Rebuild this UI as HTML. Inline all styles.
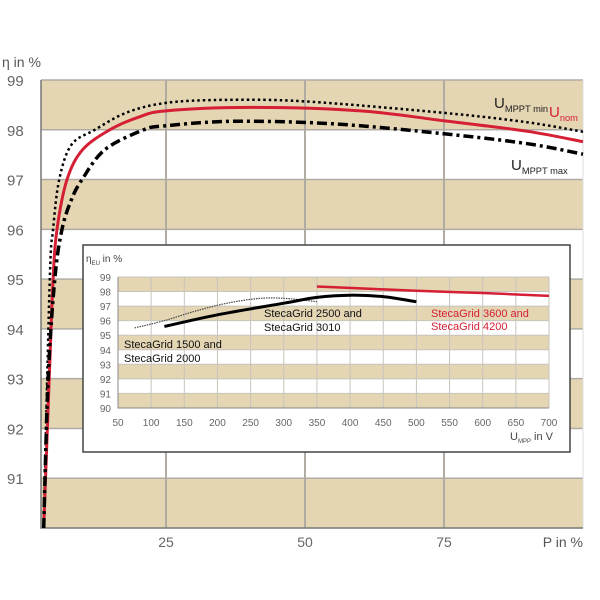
<!DOCTYPE html>
<html><head><meta charset="utf-8"><style>
html,body{margin:0;padding:0;background:#fff;width:600px;height:600px;overflow:hidden}
svg{display:block;font-family:"Liberation Sans",sans-serif}
</style></head><body>
<svg id="c" width="600" height="600" viewBox="0 0 600 600" xmlns="http://www.w3.org/2000/svg">
<g id="main"></g><g id="inset"></g>
</svg>
<script>
// Main chart data
const mainYTicks = [91,92,93,94,95,96,97,98,99];
const mainXTicks = [25,50,75];
const pMin = [3,4.1,4.7,5.8,8,12.2,18,25,35,50,75,90,100];
const etaMin = [90,95,96,97,97.7,98,98.35,98.54,98.6,98.57,98.34,98.15,97.96];
const pNom = [3,4,4.7,5.4,7.2,10,14.9,20,25,40,60,75,90,100];
const etaNom = [90,93,95,96,97,97.6,98,98.25,98.38,98.45,98.38,98.18,97.97,97.76];
const pMax = [3,3.8,5,6.3,8,9.9,14,21,25,37,55,75,90,100];
const etaMax = [90,93,95,96,96.6,97,97.6,98,98.08,98.17,98.12,97.92,97.72,97.51];
// Inset data
const insetYTicks = [90,91,92,93,94,95,96,97,98,99];
const insetXTicks = [50,100,150,200,250,300,350,400,450,500,550,600,650,700];
const v1500 = [75,120,170,220,270,310,350];
const e1500 = [95.5,96,96.7,97.25,97.55,97.5,97.3];
const v2500 = [120,200,300,350,400,450,500];
const e2500 = [95.6,96.4,97.2,97.6,97.75,97.65,97.3];
const v3600 = [350,500,600,700];
const e3600 = [98.35,98.05,97.9,97.7];

const NS="http://www.w3.org/2000/svg";
function mk(parent,tag,attrs,text){const e=document.createElementNS(NS,tag);for(const k in attrs)e.setAttribute(k,attrs[k]);if(text!==undefined)e.textContent=text;parent.appendChild(e);return e;}
const beige="#e4d5b3", grid="#b0aca4";

const X=p=>27+p*5.56, Y=v=>80+(99-v)*49.78;
const M=document.getElementById('main');
for(let v=99;v>90;v--){
  const r=mk(M,'rect',{x:41,y:Y(v),width:542,height:Y(v-1)-Y(v),fill:((99-v)%2===0)?beige:'#fff'});
  
  
}
mainYTicks.forEach(v=>{
  const l=mk(M,'line',{x1:41,x2:583,y1:Y(v),y2:Y(v),stroke:grid,'stroke-width':1.5});
  
  
  const t=mk(M,'text',{x:7,y:Y(v)+6,'font-size':15,fill:'#666'},String(v));
  
  
});
mainXTicks.forEach(p=>{
  const l=mk(M,'line',{x1:X(p),x2:X(p),y1:80,y2:528,stroke:grid,'stroke-width':2});
  
  
  const t=mk(M,'text',{x:X(p),y:547,'font-size':14,fill:'#666','text-anchor':'middle'},String(p));
  
  
});
mk(M,'line',{x1:583,x2:583,y1:80,y2:528,stroke:'#ddd','stroke-width':1});
mk(M,'path',{d:'M41 80 V528 H583',fill:'none',stroke:'#777','stroke-width':1.5});
const yt=mk(M,'text',{x:2,y:67,'font-size':14,fill:'#555'},'η in %');

const xt=mk(M,'text',{x:583,y:547,'font-size':14,fill:'#555','text-anchor':'end'},'P in %');


function line(parent,xs,ys,fx,fy,attrs,name){
  const P=xs.map((x,i)=>[fx(x),fy(ys[i])]);
  let d='M'+P[0][0].toFixed(1)+' '+P[0][1].toFixed(1);
  for(let i=0;i<P.length-1;i++){
    const p0=P[i-1]||P[i],p1=P[i],p2=P[i+1],p3=P[i+2]||P[i+1];
    const c1=[p1[0]+(p2[0]-p0[0])/6,p1[1]+(p2[1]-p0[1])/6];
    const c2=[p2[0]-(p3[0]-p1[0])/6,p2[1]-(p3[1]-p1[1])/6];
    d+=' C'+c1.map(n=>n.toFixed(1)).join(' ')+' '+c2.map(n=>n.toFixed(1)).join(' ')+' '+p2[0].toFixed(1)+' '+p2[1].toFixed(1);
  }
  const p=mk(parent,'path',Object.assign({d:d,fill:'none','stroke-linejoin':'round'},attrs));
  
  
}
line(M,pMin,etaMin,X,Y,{stroke:'#000','stroke-width':2.5,'stroke-dasharray':'2.5 3'},'series-umppt-min');
line(M,pNom,etaNom,X,Y,{stroke:'#d51f35','stroke-width':3},'series-unom');
line(M,pMax,etaMax,X,Y,{stroke:'#000','stroke-width':3.5,'stroke-dasharray':'10 4 3 4'},'series-umppt-max');

const lab=(g,x,y,main,sub,col,name,fs)=>{
  const t=mk(g,'text',{x:x,y:y,'font-size':fs,fill:col});
  mk(t,'tspan',{},main);
  mk(t,'tspan',{'font-size':fs*0.62,dy:4},sub);
  
  
};
lab(M,494,108,'U','MPPT min','#222','legend-umppt-min',15);
lab(M,549,117,'U','nom','#d51f35','legend-unom',15);
lab(M,511,170,'U','MPPT max','#222','legend-umppt-max',15);

const I=document.getElementById('inset');
const ib=mk(I,'rect',{x:83,y:245,width:487,height:207,fill:'#fff',stroke:'#444','stroke-width':1.5});

const IX=v=>118+(v-50)*0.6631, IY=v=>277+(99-v)*14.55;
for(let v=99;v>90;v--){
  const r=mk(I,'rect',{x:118,y:IY(v),width:431,height:IY(v-1)-IY(v),fill:((99-v)%2===0)?beige:'#fff'});
  
  
}
insetYTicks.forEach(v=>{
  mk(I,'line',{x1:118,x2:549,y1:IY(v),y2:IY(v),stroke:'#c8c4bc','stroke-width':1});
  const t=mk(I,'text',{x:111,y:IY(v)+4,'font-size':10,fill:'#666','text-anchor':'end'},String(v));
  
  
});
insetXTicks.forEach(v=>{
  mk(I,'line',{x1:IX(v),x2:IX(v),y1:277,y2:408,stroke:'#c8c4bc','stroke-width':1});
  const t=mk(I,'text',{x:IX(v),y:426,'font-size':10,fill:'#666','text-anchor':'middle'},String(v));
  
  
});
mk(I,'path',{d:'M118 277 V408 H549',fill:'none',stroke:'#888','stroke-width':1});
const iy=mk(I,'text',{x:86,y:262,'font-size':10,fill:'#444'});
mk(iy,'tspan',{},'η');
mk(iy,'tspan',{'font-size':6,dy:3},'EU');
mk(iy,'tspan',{dy:-3},' in %');


const ix=mk(I,'text',{x:510,y:440,'font-size':11,fill:'#444'});
mk(ix,'tspan',{},'U');
mk(ix,'tspan',{'font-size':6,dy:3},'MPP');
mk(ix,'tspan',{dy:-3},' in V');



line(I,v1500,e1500,IX,IY,{stroke:'#444','stroke-width':1.2,'stroke-dasharray':'1.5 1'},'series-stecagrid-1500');
line(I,v2500,e2500,IX,IY,{stroke:'#000','stroke-width':3},'series-stecagrid-2500');
line(I,v3600,e3600,IX,IY,{stroke:'#d51f35','stroke-width':2.5},'series-stecagrid-3600');

const tx=(x,y,s,col,name)=>{const t=mk(I,'text',{x:x,y:y,'font-size':11,fill:col},s);};
tx(264,317,'StecaGrid 2500 and','#111','label-2500-line1');
tx(264,331,'StecaGrid 3010','#111','label-2500-line2');
tx(431,317,'StecaGrid 3600 and','#d51f35','label-3600-line1');
tx(431,330,'StecaGrid 4200','#d51f35','label-3600-line2');
tx(124,348,'StecaGrid 1500 and','#111','label-1500-line1');
tx(124,362,'StecaGrid 2000','#111','label-1500-line2');
</script>
</body></html>
